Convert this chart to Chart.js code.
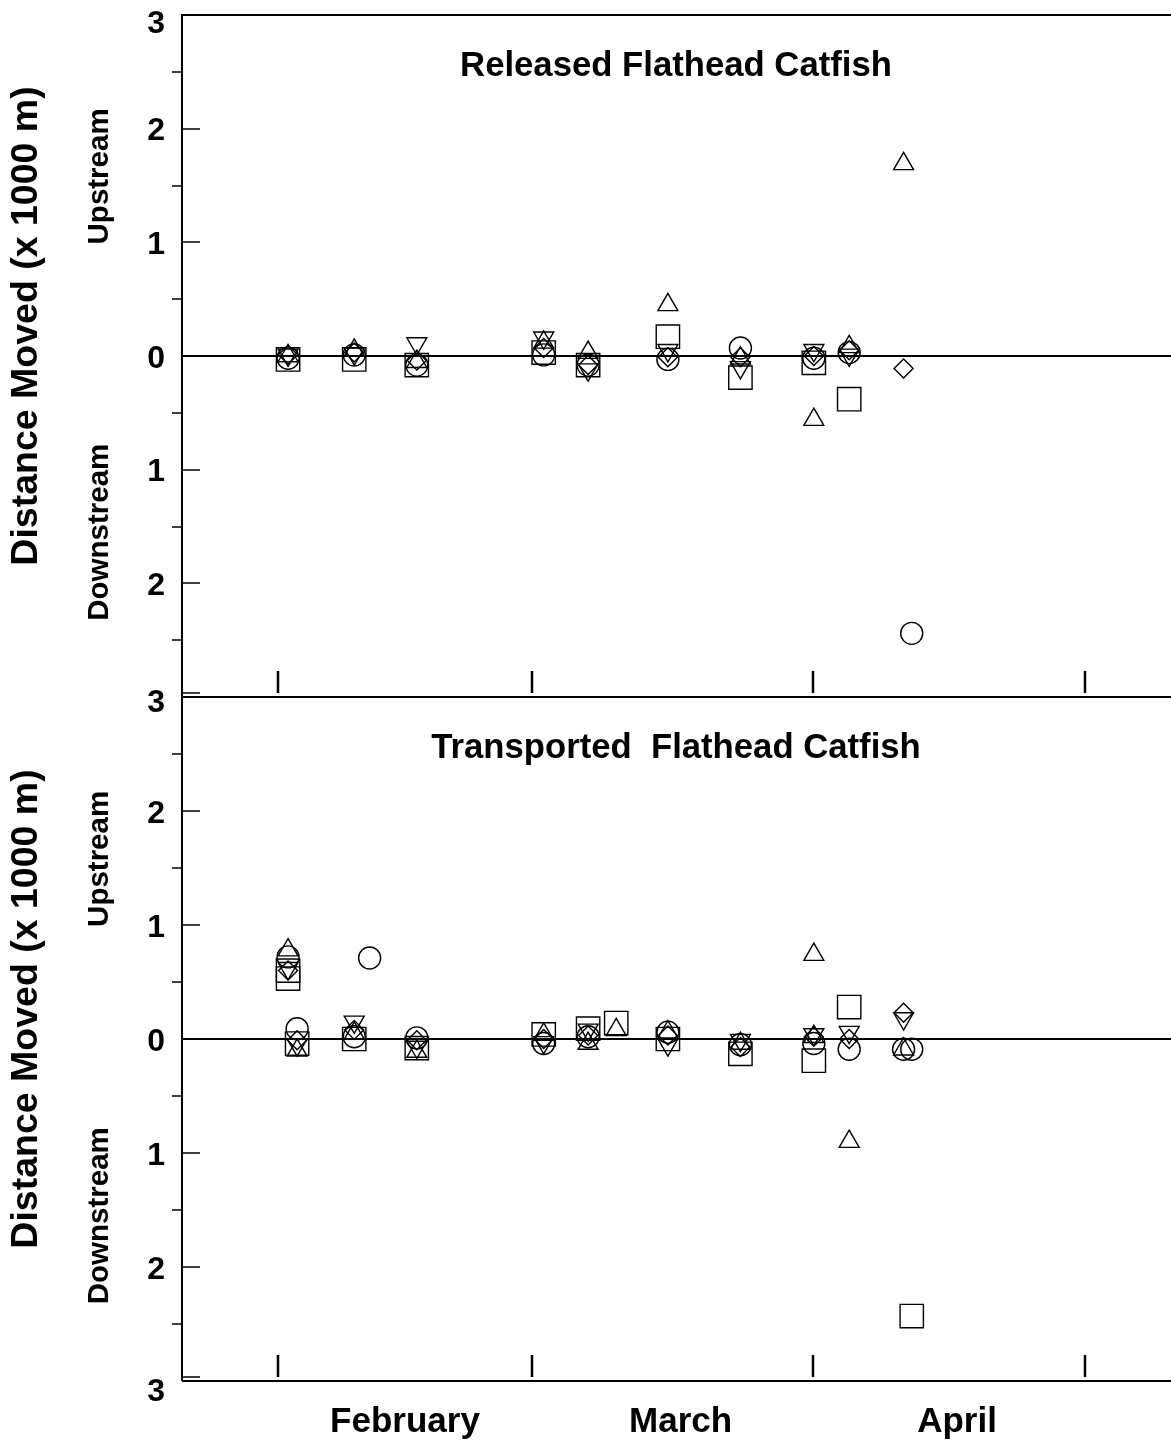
<!DOCTYPE html>
<html>
<head>
<meta charset="utf-8">
<script src="https://cdn.jsdelivr.net/npm/chart.js@4.4.1/dist/chart.umd.min.js"></script>
<style>
  html, body { margin: 0; padding: 0; background: #fff; }
  #wrap { position: relative; width: 1171px; height: 1442px; }
  canvas { position: absolute; left: 0; }
  #topChart { top: 0; }
  #bottomChart { top: 680px; }
</style>
</head>
<body>
<div id="wrap">
  <canvas id="topChart" width="1171" height="720"></canvas>
  <canvas id="bottomChart" width="1171" height="762"></canvas>
</div>
<script>
// days counted from 1 February
const monthStarts = [0, 28, 59, 89];
const monthNames = ['February', 'March', 'April'];
const monthLabelDays = [14, 44.4, 74.9];
const yMajor = [-3, -2, -1, 0, 1, 2, 3];
const yMinor = [-2.5, -1.5, -0.5, 0.5, 1.5, 2.5];

// Released fish: [day, distance (x1000 m), + upstream / - downstream]
const relCircle = [[1.1, -0.02], [8.4, 0.01], [15.3, -0.08], [29.3, 0.01], [34.2, -0.08], [43, -0.03], [51, 0.07], [59.1, -0.02], [63, 0.03], [69.9, -2.44]];
const relSquare = [[1.1, -0.03], [8.4, -0.03], [15.3, -0.08], [29.3, 0.03], [34.2, -0.08], [43, 0.17], [51, -0.19], [59.1, -0.06], [63, -0.38]];
const relTriUp = [[1.1, 0.0], [8.4, 0.05], [15.3, -0.05], [29.3, 0.12], [34.2, 0.03], [43, 0.45], [51, -0.02], [59.1, -0.56], [63, 0.08], [69, 1.69]];
const relTriDown = [[1.1, 0.01], [8.4, 0.02], [15.3, 0.11], [29.3, 0.16], [34.2, -0.12], [43, 0.05], [51, -0.1], [59.1, 0.05], [63, 0.01]];
const relDiamond = [[1.1, 0.01], [8.4, 0.03], [15.3, -0.04], [29.3, 0.07], [34.2, -0.08], [43, -0.01], [51, -0.01], [59.1, 0.0], [63, 0.05], [69, -0.11]];

// Transported fish
const traCircle = [[1.1, 0.72], [2.1, 0.09], [10.1, 0.71], [8.4, 0.02], [15.3, 0.01], [29.3, -0.04], [34.2, 0.02], [43, 0.06], [51, -0.05], [59.1, -0.04], [63, -0.09], [69, -0.09], [69.9, -0.09]];
const traSquare = [[1.1, 0.6], [1.1, 0.53], [2.1, -0.04], [8.4, 0.0], [15.3, -0.08], [29.3, 0.04], [34.2, 0.09], [37.3, 0.14], [43, 0.0], [51, -0.13], [59.1, -0.19], [63, 0.28], [69.9, -2.43]];
const traTriUp = [[1.1, 0.78], [2.1, -0.1], [8.4, 0.05], [15.3, -0.11], [29.3, 0.04], [34.2, -0.04], [37.3, 0.08], [43, 0.06], [51, -0.04], [59.1, 0.74], [59.1, 0.02], [63, -0.9], [69, -0.09]];
const traTriDown = [[1.1, 0.62], [2.1, -0.05], [8.4, 0.15], [15.3, -0.07], [29.3, -0.03], [34.2, 0.08], [43, -0.05], [51, -0.01], [59.1, 0.04], [63, 0.06], [69, 0.18]];
const traDiamond = [[1.1, 0.6], [2.1, -0.01], [8.4, 0.08], [15.3, -0.01], [29.3, 0.0], [34.2, 0.03], [43, 0.03], [51, -0.07], [59.1, 0.02], [63, 0.0], [69, 0.23]];

const FONT = '"Liberation Sans", Arial, sans-serif';

function toPts(arr) {
  return arr.map(p => ({ x: p[0], y: p[1] }));
}

function makeSets(circle, square, triUp, triDown, diamond) {
  const base = { borderColor: '#000', backgroundColor: 'rgba(0,0,0,0)', borderWidth: 1.4, showLine: false };
  return [
    { ...base, label: 'circle', data: toPts(circle), pointStyle: 'circle', pointRadius: 11 },
    { ...base, label: 'square', data: toPts(square), pointStyle: 'rect', pointRadius: 16.5 },
    { ...base, label: 'up', data: toPts(triUp), pointStyle: 'triangle', pointRadius: 11.5 },
    { ...base, label: 'down', data: toPts(triDown), pointStyle: 'triangle', pointRotation: 180, pointRadius: 11.5 },
    { ...base, label: 'diamond', data: toPts(diamond), pointStyle: 'rectRot', pointRadius: 9.5 }
  ];
}

const framePlugin = {
  id: 'frame',
  beforeDatasetsDraw(chart) {
    const o = chart.options.plugins.frame;
    const { ctx, chartArea: a, scales } = chart;
    const y = scales.y, x = scales.x;
    ctx.save();
    ctx.strokeStyle = '#000';
    ctx.lineWidth = 2;
    ctx.beginPath();
    ctx.moveTo(a.left, a.top - (o.topBorder ? 1 : 0));
    ctx.lineTo(a.left, a.bottom);
    if (o.topBorder) {
      ctx.moveTo(a.left, a.top);
      ctx.lineTo(a.right, a.top);
    }
    ctx.moveTo(a.left, a.bottom);
    ctx.lineTo(a.right, a.bottom);
    const y0 = Math.round(y.getPixelForValue(0));
    ctx.moveTo(a.left, y0);
    ctx.lineTo(a.right, y0);
    ctx.stroke();

    ctx.lineWidth = 1.5;
    ctx.beginPath();
    yMajor.forEach(v => {
      const py = Math.round(y.getPixelForValue(v)) - (v === -3 ? 4 : 0);
      ctx.moveTo(a.left, py);
      ctx.lineTo(a.left + 18, py);
    });
    yMinor.forEach(v => {
      const py = Math.round(y.getPixelForValue(v));
      ctx.moveTo(a.left - 10, py);
      ctx.lineTo(a.left, py);
    });
    ctx.stroke();

    ctx.lineWidth = 2.5;
    ctx.beginPath();
    monthStarts.forEach(d => {
      const px = Math.round(x.getPixelForValue(d));
      ctx.moveTo(px, a.bottom - 26);
      ctx.lineTo(px, a.bottom - 4);
    });
    ctx.stroke();
    ctx.restore();
  },
  afterDraw(chart) {
    const o = chart.options.plugins.frame;
    const { ctx, chartArea: a, scales } = chart;
    const y = scales.y, x = scales.x;
    ctx.save();
    ctx.fillStyle = '#000';

    ctx.font = 'bold 32px ' + FONT;
    ctx.textAlign = 'right';
    ctx.textBaseline = 'middle';
    yMajor.forEach(v => {
      if (v === 3 && !o.topLabel) return;
      let py = y.getPixelForValue(v) + 3;
      if (v === 3) py += 6;
      if (v === -3) py += o.months ? 8 : 3;
      ctx.fillText(String(Math.abs(v)), 165, py);
    });

    const y0 = y.getPixelForValue(0);
    ctx.save();
    ctx.translate(27, y0 - 30);
    ctx.rotate(-Math.PI / 2);
    ctx.textAlign = 'center';
    ctx.font = 'bold 37.5px ' + FONT;
    ctx.fillText('Distance Moved (x 1000 m)', 0, 0);
    ctx.restore();

    ctx.font = 'bold 29.5px ' + FONT;
    [['Upstream', 1.58], ['Downstream', -1.55]].forEach(([t, v]) => {
      ctx.save();
      ctx.translate(100, y.getPixelForValue(v));
      ctx.rotate(-Math.PI / 2);
      ctx.textAlign = 'center';
      ctx.fillText(t, 0, 0);
      ctx.restore();
    });

    ctx.font = 'bold 34.7px ' + FONT;
    ctx.textAlign = 'center';
    ctx.fillText(o.title, 676, a.top + 51);

    if (o.months) {
      ctx.font = 'bold 35px ' + FONT;
      monthNames.forEach((m, i) => {
        ctx.fillText(m, x.getPixelForValue(monthLabelDays[i]), a.bottom + 41);
      });
    }
    ctx.restore();
  }
};

function buildChart(id, sets, frame, padTop, padBottom) {
  return new Chart(document.getElementById(id).getContext('2d'), {
    type: 'scatter',
    data: { datasets: sets },
    options: {
      responsive: false,
      animation: false,
      devicePixelRatio: 1,
      layout: { autoPadding: false, padding: { left: 182, right: 0, top: padTop, bottom: padBottom } },
      plugins: {
        legend: { display: false },
        tooltip: { enabled: false },
        frame: frame
      },
      scales: {
        x: { type: 'linear', min: -10.6, max: 98.5, display: false },
        y: { type: 'linear', min: -3, max: 3, display: false }
      }
    },
    plugins: [framePlugin]
  });
}

buildChart('topChart', makeSets(relCircle, relSquare, relTriUp, relTriDown, relDiamond),
  { title: 'Released Flathead Catfish', topBorder: true, topLabel: true, months: false }, 15, 23);
buildChart('bottomChart', makeSets(traCircle, traSquare, traTriUp, traTriDown, traDiamond),
  { title: 'Transported  Flathead Catfish', topBorder: false, topLabel: false, months: true }, 17, 61);
</script>
</body>
</html>
